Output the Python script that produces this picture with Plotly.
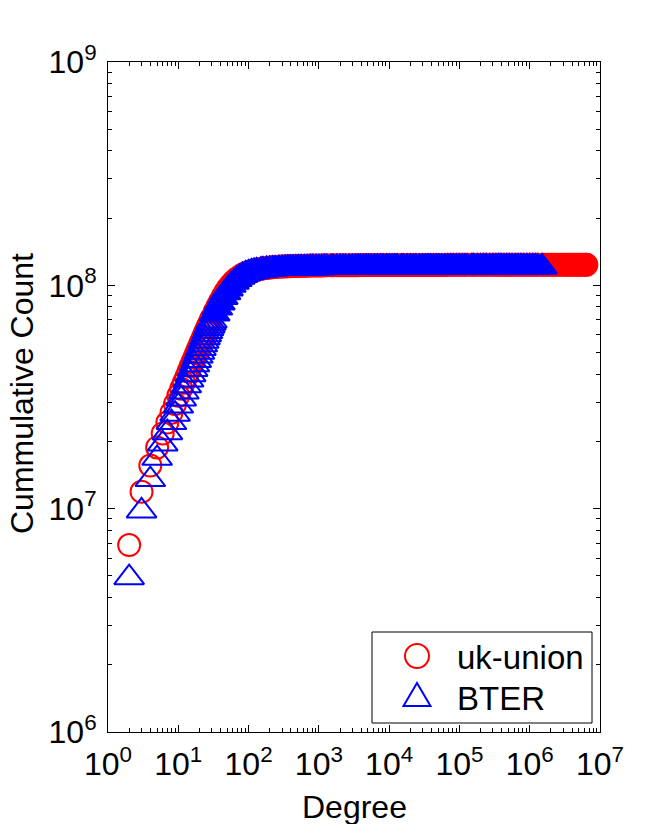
import numpy as np
import plotly.graph_objects as go

# degree values (shared by both series; BTER uses the first part only)
degree = [
    2, 3, 4, 5, 6, 7, 8, 9, 10, 11, 12, 13, 14, 15, 16, 17, 18, 19, 20,
    21, 22, 23, 24, 25, 26, 27, 28, 29, 30,
    33, 36, 39, 43, 47, 51, 56, 62, 68, 75, 82, 91,
    100, 110, 120, 130, 150, 160, 180, 200, 220, 240, 270, 300,
    330, 360, 390, 430, 470, 510, 560, 620, 680, 750, 820, 910,
    1.0e3, 1.1e3, 1.2e3, 1.3e3, 1.5e3, 1.6e3, 1.8e3, 2.0e3, 2.2e3, 2.4e3, 2.7e3, 3.0e3,
    3.3e3, 3.6e3, 3.9e3, 4.3e3, 4.7e3, 5.1e3, 5.6e3, 6.2e3, 6.8e3, 7.5e3, 8.2e3, 9.1e3,
    1.0e4, 1.1e4, 1.2e4, 1.3e4, 1.5e4, 1.6e4, 1.8e4, 2.0e4, 2.2e4, 2.4e4, 2.7e4, 3.0e4,
    3.3e4, 3.6e4, 3.9e4, 4.3e4, 4.7e4, 5.1e4, 5.6e4, 6.2e4, 6.8e4, 7.5e4, 8.2e4, 9.1e4,
    1.0e5, 1.1e5, 1.2e5, 1.3e5, 1.5e5, 1.6e5, 1.8e5, 2.0e5, 2.2e5, 2.4e5, 2.7e5, 3.0e5,
    3.3e5, 3.6e5, 3.9e5, 4.3e5, 4.7e5, 5.1e5, 5.6e5, 6.2e5, 6.8e5, 7.5e5, 8.2e5, 9.1e5,
    1.0e6, 1.1e6, 1.2e6, 1.3e6, 1.5e6, 1.6e6, 1.8e6, 2.0e6, 2.2e6, 2.4e6, 2.7e6, 3.0e6,
    3.3e6, 3.6e6, 3.9e6, 4.3e6, 4.7e6, 5.1e6, 5.6e6, 6.2e6, 6.4e6,
]

# cumulative counts in millions
uk_union = [
    6.87, 11.9, 15.6, 18.8, 21.7, 24.3, 26.9, 29.4, 32.0, 34.4, 36.6, 38.9, 41.1, 43.4,
    45.5, 47.5, 49.7, 51.8, 53.7, 55.6, 57.5, 59.4, 61.4, 63.1, 64.9, 66.5, 68.2, 70.0, 71.6,
    76.2, 80.4, 84.5, 89.3, 93.5, 97.3, 100.9, 104.5, 107.2, 109.6, 111.7, 113.5,
    114.8, 115.9, 116.7, 117.5, 118.6, 119.1, 119.7, 120.2, 120.5, 120.8, 121.1, 121.3,
    121.5, 121.7, 121.8, 122.0, 122.1, 122.2, 122.3, 122.4, 122.5, 122.6, 122.6, 122.7,
    122.8, 122.8, 122.9, 122.9, 122.9, 123.0, 123.0, 123.0, 123.0, 123.1, 123.1, 123.1,
    123.1, 123.1, 123.2, 123.2, 123.2, 123.2, 123.2, 123.2, 123.3, 123.3, 123.3, 123.3,
    123.3, 123.3, 123.3, 123.3, 123.3, 123.4, 123.4, 123.4, 123.4, 123.4, 123.4, 123.4,
    123.4, 123.4, 123.4, 123.4, 123.4, 123.4, 123.4, 123.4, 123.5, 123.5, 123.5, 123.5,
    123.5, 123.5, 123.5, 123.5, 123.5, 123.5, 123.5, 123.5, 123.5, 123.5, 123.5, 123.5,
    123.5, 123.5, 123.5, 123.5, 123.5, 123.5, 123.5, 123.5, 123.5, 123.5, 123.5, 123.5,
    123.5, 123.5, 123.5, 123.5, 123.5, 123.5, 123.5, 123.5, 123.5, 123.5, 123.5, 123.5,
    123.6, 123.6, 123.6, 123.6, 123.6, 123.6, 123.6, 123.6, 123.6,
]

bter = [
    4.91, 9.77, 13.5, 16.8, 19.5, 21.9, 24.3, 26.5, 28.8, 31.0, 33.3, 35.5, 37.7, 39.8,
    42.0, 44.1, 46.1, 48.2, 50.2, 52.2, 54.2, 56.2, 58.2, 60.1, 62.1, 64.0, 65.8, 67.6, 69.3,
    74.5, 79.1, 83.4, 88.3, 92.7, 96.4, 100.0, 103.3, 106.2, 108.6, 110.7, 112.5,
    113.8, 114.8, 115.6, 116.1, 116.9, 117.2, 117.8, 118.0, 118.3, 118.6, 118.8, 119.0,
    119.2, 119.3, 119.4, 119.5, 119.6, 119.7, 119.7, 119.8, 119.8, 119.9, 119.9, 120.0,
    120.0, 120.0, 120.1, 120.1, 120.1, 120.1, 120.2, 120.2, 120.2, 120.2, 120.3, 120.3,
    120.3, 120.3, 120.3, 120.4, 120.4, 120.4, 120.4, 120.4, 120.5, 120.5, 120.5, 120.5,
    120.5, 120.5, 120.5, 120.6, 120.6, 120.6, 120.6, 120.6, 120.6, 120.6, 120.6, 120.6,
    120.7, 120.7, 120.7, 120.7, 120.7, 120.7, 120.7, 120.7, 120.7, 120.7, 120.7, 120.7,
    120.7, 120.7, 120.7, 120.7, 120.8, 120.8, 120.8, 120.8, 120.8, 120.8, 120.8, 120.8,
    120.8, 120.8, 120.8, 120.8, 120.8, 120.8, 120.8, 120.8, 120.8, 120.8, 120.8, 120.8,
    120.8, 120.8, 120.8, 120.8, 120.8,
]

x_tickvals = [1, 1e1, 1e2, 1e3, 1e4, 1e5, 1e6, 1e7]
x_ticktext = ["10<sup>0</sup>", "10<sup>1</sup>", "10<sup>2</sup>", "10<sup>3</sup>",
              "10<sup>4</sup>", "10<sup>5</sup>", "10<sup>6</sup>", "10<sup>7</sup>"]
y_tickvals = [1e6, 1e7, 1e8, 1e9]
y_ticktext = ["10<sup>6</sup>", "10<sup>7</sup>", "10<sup>8</sup>", "10<sup>9</sup>"]

FONT = "Arial, Liberation Sans, sans-serif"
RED = "#FF0000"
BLUE = "#0000FF"

# plot area in pixels
L, R, T, B = 108, 600, 62, 732


def px(x):
    return (x - L) / (R - L)


def py(y):
    return (B - y) / (B - T)


red_x = np.array(degree[:len(uk_union)])
blue_x = np.array(degree[:len(bter)])
red_y = np.array(uk_union) * 1e6
blue_y = np.array(bter) * 1e6

# sparse low degrees drawn hollow, dense tail filled (merges into a band)
red_sym = ["circle-open" if d <= 30 else "circle" for d in red_x]
blue_sym = ["triangle-up-open" if d <= 30 else "triangle-up" for d in blue_x]

fig = go.Figure()
fig.add_trace(go.Scatter(
    x=red_x, y=red_y, mode="markers", name="uk-union",
    marker=dict(symbol=red_sym, size=22, color=RED, line=dict(color=RED, width=2)),
))
fig.add_trace(go.Scatter(
    x=blue_x, y=blue_y, mode="markers", name="BTER",
    marker=dict(symbol=blue_sym, size=26, color=BLUE, line=dict(color=BLUE, width=2)),
))

axis_common = dict(
    type="log", showgrid=False, zeroline=False,
    showline=True, linecolor="black", linewidth=1, mirror="ticks",
    ticks="inside", ticklen=7, tickwidth=1, tickcolor="black",
    minor=dict(ticks="inside", ticklen=4, tickwidth=1, tickcolor="black",
               dtick="D1", showgrid=False),
    tickfont=dict(family=FONT, size=32, color="black"),
)

fig.update_xaxes(range=[0, 7], tickvals=x_tickvals, ticktext=x_ticktext,
                 ticklabelstandoff=4, **axis_common)
fig.update_yaxes(range=[6, 9], tickvals=y_tickvals, ticktext=y_ticktext,
                 ticklabelstandoff=4, **axis_common)

# legend box drawn by hand so markers keep their plotted size
shapes = [
    dict(type="rect", xref="paper", yref="paper",
         x0=px(372), x1=px(592), y0=py(723), y1=py(632),
         line=dict(color="black", width=1), fillcolor="white"),
    dict(type="circle", xref="paper", yref="paper",
         x0=px(405), x1=px(429), y0=py(668), y1=py(644),
         line=dict(color=RED, width=2)),
    dict(type="path", xref="paper", yref="paper",
         path="M {:.5f},{:.5f} L {:.5f},{:.5f} L {:.5f},{:.5f} Z".format(
             px(417), py(683), px(403.5), py(706), px(430.5), py(706)),
         line=dict(color=BLUE, width=2)),
]

annotations = [
    dict(text="uk-union", x=px(455), y=py(657), xref="paper", yref="paper",
         xanchor="left", yanchor="middle", showarrow=False,
         font=dict(family=FONT, size=33, color="black")),
    dict(text="BTER", x=px(455), y=py(698), xref="paper", yref="paper",
         xanchor="left", yanchor="middle", showarrow=False,
         font=dict(family=FONT, size=33, color="black")),
    dict(text="Degree", x=px(354), y=py(807), xref="paper", yref="paper",
         xanchor="center", yanchor="middle", showarrow=False,
         font=dict(family=FONT, size=32, color="black")),
    dict(text="Cummulative Count", x=px(22), y=py(394), xref="paper", yref="paper",
         xanchor="center", yanchor="middle", showarrow=False, textangle=-90,
         font=dict(family=FONT, size=32, color="black")),
]

fig.update_layout(
    width=663, height=824,
    margin=dict(l=L, r=663 - R, t=T, b=824 - B, autoexpand=False),
    paper_bgcolor="white", plot_bgcolor="white",
    showlegend=False,
    shapes=shapes,
    annotations=annotations,
)

fig.write_html("out.html", config={"displayModeBar": False},
               post_script="document.body.style.margin='0';")
